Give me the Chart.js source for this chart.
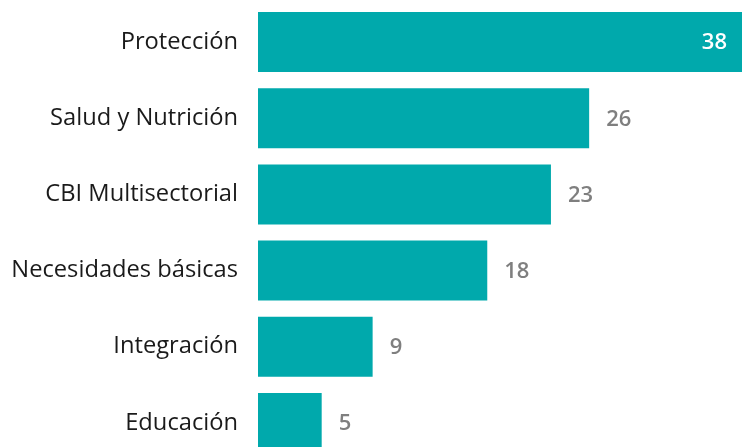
<!DOCTYPE html>
<html>
<head>
<meta charset="utf-8">
<script src="https://cdn.jsdelivr.net/npm/chart.js@4/dist/chart.umd.min.js"></script>
<style>
  html, body { margin:0; padding:0; background:#fff; width:742px; height:447px; overflow:hidden; }
  canvas { display:block; }
</style>
</head>
<body>
<!-- plot runs past the bottom edge, last bar is cut like in the source -->
<canvas id="chart" width="742" height="461"></canvas>
<script>
// ── Data ───────────────────────────────────────────────
const categories = ['Protección','Salud y Nutrición','CBI Multisectorial','Necesidades básicas','Integración','Educación'];
const values     = [38, 26, 23, 18, 9, 5];

const TEAL = '#00a9ac';

// value labels: inside the longest bar (white), outside the rest (grey)
const valueLabels = {
  id:'valueLabels',
  afterDatasetsDraw(chart) {
    const { ctx, chartArea } = chart;
    const meta = chart.getDatasetMeta(0);
    ctx.save();
    ctx.font = '600 22px "Open Sans", sans-serif';
    ctx.textBaseline = 'middle';
    meta.data.forEach((bar, i) => {
      const txt = String(values[i]);
      if (bar.x > chartArea.right - 60) {
        ctx.fillStyle = '#ffffff';
        ctx.textAlign = 'right';
        ctx.fillText(txt, bar.x - 15, bar.y + 1);
      } else {
        ctx.fillStyle = '#7f7f7f';
        ctx.textAlign = 'left';
        ctx.fillText(txt, bar.x + 17, bar.y + 1);
      }
    });
    ctx.restore();
  }
};

new Chart(document.getElementById('chart').getContext('2d'), {
  type:'bar',
  data:{ labels:categories, datasets:[{ data:values, backgroundColor:TEAL, borderWidth:0,
    barPercentage:1, categoryPercentage:0.788 }] },
  options:{
    indexAxis:'y', responsive:false, animation:false, devicePixelRatio:1,
    layout:{ padding:{ top:4, bottom:0, left:0, right:0 } },
    plugins:{ legend:{ display:false }, tooltip:{ enabled:false } },
    scales:{
      x:{ display:false, min:0, max:38 },
      y:{ border:{ display:false }, grid:{ display:false, drawTicks:false },
          // fixed label column, no extra vertical room for the tick labels
          afterFit:s => { s.width = 258; s.paddingTop = 0; s.paddingBottom = 0; },
          ticks:{ color:'#1a1a1a', padding:20, font:{ family:'"Open Sans", sans-serif', size:23.7 } } }
    }
  },
  plugins:[valueLabels]
});
</script>
</body>
</html>
